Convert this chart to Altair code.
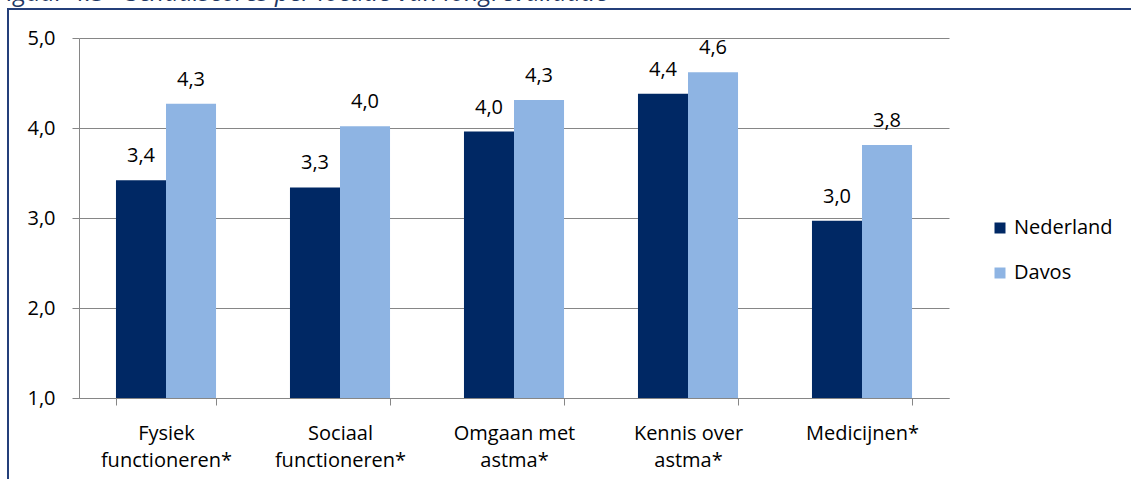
import altair as alt
import pandas as pd

categories = ["Fysiek functioneren*", "Sociaal functioneren*", "Omgaan met astma*",
              "Kennis over astma*", "Medicijnen*"]
label_lines = [["Fysiek", "functioneren*"], ["Sociaal", "functioneren*"],
               ["Omgaan met", "astma*"], ["Kennis over", "astma*"], ["Medicijnen*"]]
series = ["Nederland", "Davos"]
nederland = [3.42, 3.34, 3.96, 4.38, 2.97]
davos = [4.27, 4.02, 4.31, 4.62, 3.81]
colors = ["#002864", "#8EB4E3"]
y_ticks = [1, 2, 3, 4, 5]
title_text = "Figuur 4.3 - Schaalscores per locatie van longrevalidatie"

rows = []
for i, c in enumerate(categories):
    rows.append({"category": c, "series": series[0], "value": nederland[i]})
    rows.append({"category": c, "series": series[1], "value": davos[i]})
df = pd.DataFrame(rows)

# multi-line x labels
expr = ""
for c, lines in zip(categories, label_lines):
    arr = "[" + ", ".join("'" + l + "'" for l in lines) + "]"
    expr += f"datum.label == '{c}' ? {arr} : "
expr += "datum.label"

GRAY = "#868686"
FONT = "Open Sans"
FS = 20

x_enc = alt.X("category:N", sort=categories, title=None,
              scale=alt.Scale(paddingInner=0.425, paddingOuter=0.2125),
              axis=alt.Axis(tickBand="extent", tickSize=7, labelPadding=18,
                            labelAngle=0, labelBaseline="top", labelLineHeight=27,
                            labelExpr=expr, grid=False, domainColor=GRAY,
                            tickColor=GRAY, labelFontSize=FS, labelFont=FONT,
                            labelColor="#000000"))
xoff = alt.XOffset("series:N", sort=series,
                   scale=alt.Scale(paddingInner=0, paddingOuter=0))
y_enc = alt.Y("value:Q", title=None, scale=alt.Scale(domain=[1, 5], zero=False),
              axis=alt.Axis(values=y_ticks, tickSize=7, labelPadding=17,
                            labelExpr="replace(format(datum.value, '.1f'), '.', ',')",
                            grid=True, gridColor=GRAY, domainColor=GRAY,
                            tickColor=GRAY, labelFontSize=FS, labelFont=FONT,
                            labelColor="#000000"))

base = alt.Chart(df)

bars = base.mark_bar().encode(
    x=x_enc, xOffset=xoff, y=y_enc, y2=alt.datum(1),
    color=alt.Color("series:N", sort=series,
                    scale=alt.Scale(domain=series, range=colors),
                    legend=alt.Legend(title=None, orient="none", legendX=911, legendY=180,
                                      symbolType="square", symbolSize=121,
                                      symbolStrokeWidth=0, labelFontSize=FS,
                                      labelFont=FONT, labelColor="#000000",
                                      rowPadding=25, labelOffset=4, padding=0))
)

labels = base.transform_calculate(
    lab="replace(format(datum.value, '.1f'), '.', ',')"
).mark_text(dy=-18, baseline="alphabetic", fontSize=FS, font=FONT, color="#000000").encode(
    x=alt.X("category:N", sort=categories),
    xOffset=alt.XOffset("series:N", sort=series),
    y=alt.Y("value:Q"),
    text="lab:N",
)

dummy = pd.DataFrame({"a": [0]})
frame_left = alt.Chart(dummy).mark_rule(stroke="#243F7A", strokeWidth=2).encode(
    x=alt.value(-71), y=alt.value(-30), y2=alt.value(441))
frame_top = alt.Chart(dummy).mark_rule(stroke="#243F7A", strokeWidth=2).encode(
    x=alt.value(-72), x2=alt.value(1052), y=alt.value(-29))

title = alt.Chart(pd.DataFrame({"t": [title_text]})).mark_text(
    align="right", baseline="alphabetic", font=FONT, fontStyle="italic",
    fontSize=25, color="#1F3864"
).encode(x=alt.value(529), y=alt.value(-37.5), text="t:N")

chart = alt.layer(bars, labels, frame_left, frame_top, title).properties(
    width=870, height=360,
    autosize=alt.AutoSizeParams(type="none"),
    padding={"left": 79, "top": 38, "right": 182, "bottom": 81},
).configure_view(stroke=None)

chart.save("out.html", embed_options={"renderer": "svg", "actions": False})
